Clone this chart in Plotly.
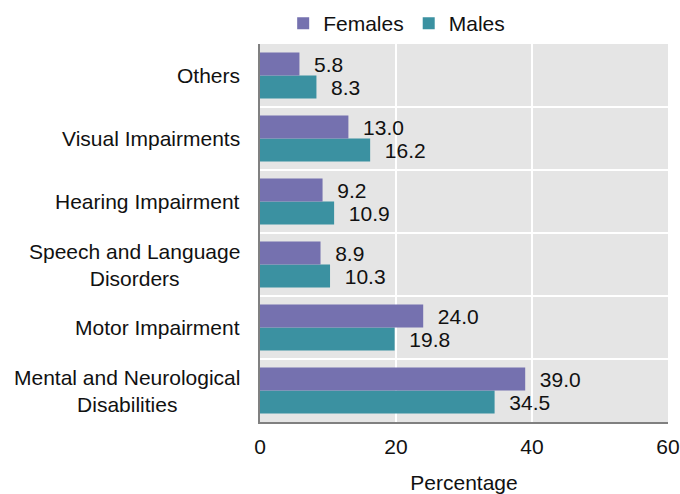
import plotly.graph_objects as go

# Categories listed bottom to top
categories = [
    "Mental and Neurological<br>Disabilities",
    "Motor Impairment",
    "Speech and Language<br>Disorders",
    "Hearing Impairment",
    "Visual Impairments",
    "Others",
]
females = [39.0, 24.0, 8.9, 9.2, 13.0, 5.8]
males = [34.5, 19.8, 10.3, 10.9, 16.2, 8.3]
x_ticks = [0, 20, 40, 60]

FEMALE_COLOR = "#7571AF"
MALE_COLOR = "#3B91A1"
FONT = "Liberation Sans, Arial, sans-serif"
FS = 21
PAD = "\u00a0\u00a0"

fig = go.Figure()
# Males first so they sit below Females within each group
fig.add_trace(go.Bar(
    y=categories, x=males, name="Males", orientation="h",
    marker=dict(color=MALE_COLOR, line=dict(width=0)),
    text=[f"{PAD}{v:.1f}" for v in males], textposition="outside",
    textfont=dict(size=FS, color="#111111"), legendrank=2,
    cliponaxis=False,
))
fig.add_trace(go.Bar(
    y=categories, x=females, name="Females", orientation="h",
    marker=dict(color=FEMALE_COLOR, line=dict(width=0)),
    text=[f"{PAD}{v:.1f}" for v in females], textposition="outside",
    textfont=dict(size=FS, color="#111111"), legendrank=1,
    cliponaxis=False,
))

# White separators between category bands
shapes = [
    dict(type="line", xref="paper", yref="y", x0=0, x1=1,
         y0=i + 0.5, y1=i + 0.5, line=dict(color="white", width=2), layer="below")
    for i in range(len(categories) - 1)
]

# Centre-aligned category labels to the left of the plot
annotations = [
    dict(x=0, xref="paper", y=cat, yref="y", text=cat, showarrow=False,
         xanchor="right", yanchor="middle", align="center", xshift=-18,
         font=dict(size=FS, color="#111111"))
    for cat in categories
]

fig.update_layout(
    width=680, height=494,
    margin=dict(l=260, r=12, t=44, b=72, autoexpand=False),
    paper_bgcolor="white", plot_bgcolor="#E5E5E5",
    barmode="group", bargap=0.27, bargroupgap=0,
    font=dict(family=FONT, size=FS, color="#111111"),
    shapes=shapes, annotations=annotations,
    legend=dict(orientation="h", x=0.335, xanchor="center", y=1.0, yanchor="bottom",
                font=dict(size=FS), itemwidth=30, traceorder="normal",
                bgcolor="rgba(0,0,0,0)", itemsizing="constant"),
    xaxis=dict(range=[0, 60], tickvals=x_ticks, showgrid=True, gridcolor="white",
               gridwidth=2, zeroline=False, showline=True, linecolor="#808080",
               linewidth=2, ticks="outside", ticklen=5, tickcolor="rgba(0,0,0,0)",
               tickfont=dict(size=FS), automargin=False,
               title=dict(text="Percentage", font=dict(size=FS), standoff=22)),
    yaxis=dict(showgrid=False, showline=True, linecolor="#808080", linewidth=2,
               ticks="", showticklabels=False, automargin=False),
)

fig.write_html("out.html")
